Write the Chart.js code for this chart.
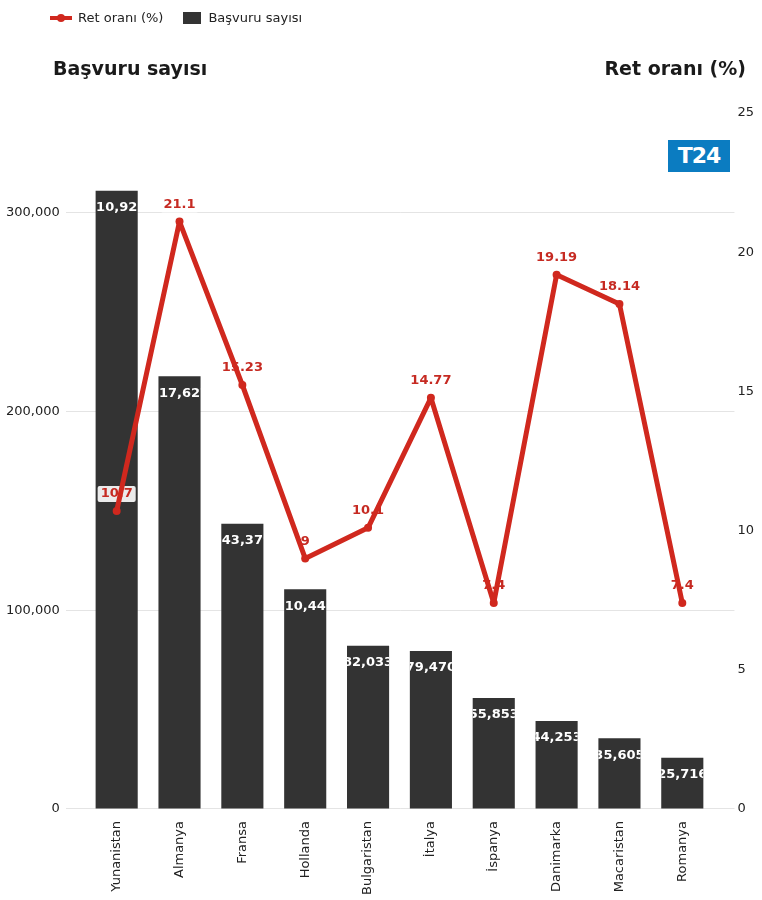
<!DOCTYPE html>
<html>
<head>
<meta charset="utf-8">
<script src="https://cdn.jsdelivr.net/npm/chart.js@4.4.1/dist/chart.umd.min.js"></script>
<style>
  body { margin: 0; background: #fff; font-family: "DejaVu Sans", sans-serif; }
  #wrap { position: relative; width: 762px; height: 900px; }
  #legend { position: absolute; top: 10px; left: 50px; font-size: 13px; color: #222; display: flex; align-items: center; }
  .item { display: flex; align-items: center; margin-right: 20px; }
  .lineMark { position: relative; width: 22px; height: 4px; margin-right: 6px; }
  .lineMark i { position: absolute; left: 7px; top: -2px; width: 8px; height: 8px; border-radius: 50%; }
  .boxMark { width: 18px; height: 12px; margin-right: 7px; }
  .axTitle { position: absolute; top: 57px; font-size: 19px; font-weight: bold; color: #1a1a1a; }
  #logo { position: absolute; left: 668px; top: 140px; width: 62px; height: 32px; background: #0b7cc1; color: #fff;
          font: 900 22px "DejaVu Sans", sans-serif; line-height: 32px; text-align: center; letter-spacing: -1px; }
</style>
</head>
<body>
<div id="wrap">
  <canvas id="chartcanvas" width="762" height="900"></canvas>
  <div id="legend"></div>
  <div class="axTitle" style="left:53px">Başvuru sayısı</div>
  <div class="axTitle" style="right:16px">Ret oranı (%)</div>
  <div id="logo">T24</div>
</div>
<script>
var kategoriler = ["Yunanistan","Almanya","Fransa","Hollanda","Bulgaristan","İtalya","İspanya","Danimarka","Macaristan","Romanya"];
var basvuruSayisi = [310926, 217627, 143379, 110446, 82033, 79470, 55853, 44253, 35605, 25716];
var retOrani = [10.7, 21.1, 15.23, 9, 10.1, 14.77, 7.4, 19.19, 18.14, 7.4];
var solTikler = [0, 100000, 200000, 300000];
var sagTikler = [0, 5, 10, 15, 20, 25];

var KIRMIZI = "#d0281e";
var KOYU = "#333333";

// legend in html
var leg = document.getElementById("legend");
leg.innerHTML =
  '<div class="item"><span class="lineMark" style="background:' + KIRMIZI + '"><i style="background:' + KIRMIZI + '"></i></span>Ret oranı (%)</div>' +
  '<div class="item"><span class="boxMark" style="background:' + KOYU + '"></span>Başvuru sayısı</div>';

var etiketler = {
  id: "etiketler",
  beforeDatasetDraw: function(chart, args) {
    if (args.index !== 0) return;
    var ctx = chart.ctx;
    ctx.save();
    ctx.font = "bold 13px 'DejaVu Sans'";
    ctx.textAlign = "center";
    ctx.textBaseline = "middle";
    args.meta.data.forEach(function(p, i) {
      var t = String(retOrani[i]);
      var w = ctx.measureText(t).width;
      var y = p.y - 17;
      ctx.fillStyle = "rgba(255,255,255,0.9)";
      ctx.beginPath();
      ctx.roundRect(p.x - w / 2 - 3, y - 8, w + 6, 16, 2);
      ctx.fill();
      ctx.fillStyle = "#c62a22";
      ctx.fillText(t, p.x, y);
    });
    ctx.restore();
  },
  afterDatasetDraw: function(chart, args) {
    if (args.index !== 1) return;
    var ctx = chart.ctx;
    ctx.save();
    ctx.font = "bold 13px 'DejaVu Sans'";
    ctx.textAlign = "center";
    ctx.textBaseline = "middle";
    ctx.fillStyle = "#fff";
    args.meta.data.forEach(function(b, i) {
      ctx.save();
      ctx.beginPath();
      ctx.rect(b.x - b.width / 2, b.y, b.width, b.base - b.y);
      ctx.clip();
      ctx.fillText(basvuruSayisi[i].toLocaleString("en-US"), b.x, b.y + 17);
      ctx.restore();
    });
    ctx.restore();
  }
};

var ctx = document.getElementById("chartcanvas").getContext("2d");
new Chart(ctx, {
  type: "bar",
  data: {
    datasets: [
      {
        type: "line",
        label: "Ret oranı (%)",
        data: retOrani.map(function(v, i) { return { x: i, y: v }; }),
        yAxisID: "y1",
        borderColor: KIRMIZI,
        backgroundColor: KIRMIZI,
        borderWidth: 5,
        borderJoinStyle: "round",
        borderCapStyle: "round",
        pointRadius: 4,
        pointBackgroundColor: KIRMIZI,
        pointBorderWidth: 0,
        tension: 0,
        order: 0
      },
      {
        type: "bar",
        label: "Başvuru sayısı",
        data: basvuruSayisi.map(function(v, i) { return { x: i, y: v }; }),
        yAxisID: "y",
        backgroundColor: KOYU,
        borderWidth: 0,
        categoryPercentage: 1,
        barPercentage: 0.67,
        order: 1
      }
    ]
  },
  options: {
    responsive: false,
    animation: false,
    layout: { padding: { top: 113, right: 5, left: 0, bottom: -7 } },
    plugins: { legend: { display: false }, tooltip: { enabled: false } },
    scales: {
      x: {
        type: "linear",
        min: -0.81,
        max: 9.83,
        offset: false,
        grid: { display: false, drawTicks: false },
        border: { display: false },
        afterBuildTicks: function(s) { s.ticks = kategoriler.map(function(k, i) { return { value: i }; }); },
        ticks: {
          autoSkip: false,
          minRotation: 90,
          maxRotation: 90,
          padding: 12,
          color: "#222",
          font: { family: "DejaVu Sans", size: 13 },
          callback: function(v) { return kategoriler[v]; }
        }
      },
      y: {
        position: "left",
        min: 0,
        max: 350000,
        afterBuildTicks: function(s) { s.ticks = solTikler.map(function(v) { return { value: v }; }); },
        grid: { color: "#e4e4e4", lineWidth: 1, drawTicks: false },
        border: { display: false },
        ticks: {
          padding: 6,
          color: "#222",
          font: { family: "DejaVu Sans", size: 13 },
          callback: function(v) { return v.toLocaleString("en-US"); }
        }
      },
      y1: {
        position: "right",
        min: 0,
        max: 25,
        afterBuildTicks: function(s) { s.ticks = sagTikler.map(function(v) { return { value: v }; }); },
        grid: { display: false, drawTicks: false },
        border: { display: false },
        ticks: {
          padding: 3,
          color: "#222",
          font: { family: "DejaVu Sans", size: 13 }
        }
      }
    }
  },
  plugins: [etiketler]
});
</script>
</body>
</html>
